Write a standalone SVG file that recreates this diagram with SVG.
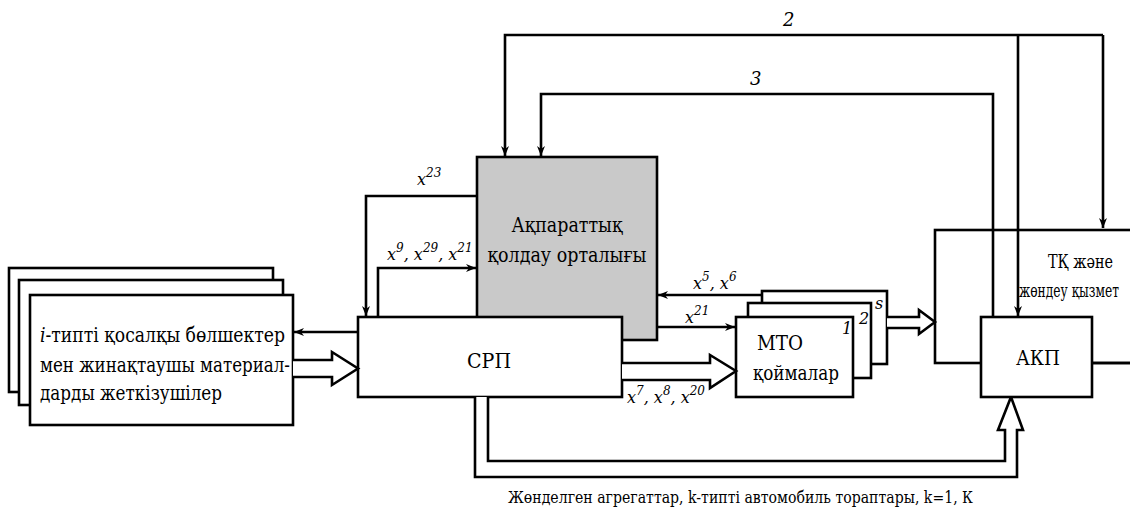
<svg xmlns="http://www.w3.org/2000/svg" width="1130" height="516" viewBox="0 0 1130 516">
<style>
.box{fill:#fff;stroke:#000;stroke-width:2.6}
.gray{fill:#c9c9c9;stroke:#000;stroke-width:2.6}
.ln{fill:none;stroke:#000;stroke-width:2.6}
.hol{fill:#fff;stroke:#000;stroke-width:2.6;stroke-linejoin:miter}
</style>
<defs>
<marker id="arr" viewBox="0 0 10 10" refX="10" refY="5" markerWidth="10" markerHeight="10" orient="auto" markerUnits="userSpaceOnUse">
<path d="M0,1 L10,5 L0,9 L3,5 z" fill="#000"/>
</marker>
</defs>

<g id="suppliers" font-family="DejaVu Serif, serif" font-size="20" fill="#000">
<rect class="box" x="9" y="268" width="264" height="124"/>
<rect class="box" x="19" y="280" width="264" height="125"/>
<rect class="box" x="30" y="295" width="263" height="130"/>
<text x="40" y="342" textLength="245" lengthAdjust="spacingAndGlyphs"><tspan font-style="italic">і</tspan>-типті қосалқы бөлшектер</text>
<text x="40" y="372" textLength="250" lengthAdjust="spacingAndGlyphs">мен жинақтаушы материал-</text>
<text x="40" y="400" textLength="182" lengthAdjust="spacingAndGlyphs">дарды жеткізушілер</text>
</g>

<g id="info-center" font-family="DejaVu Serif, serif" font-size="21" fill="#000">
<rect class="gray" x="477" y="157" width="180" height="183"/>
<text x="567" y="232" text-anchor="middle" textLength="111" lengthAdjust="spacingAndGlyphs">Ақпараттық</text>
<text x="567" y="262" text-anchor="middle" textLength="159" lengthAdjust="spacingAndGlyphs">қолдау орталығы</text>
</g>

<g id="srp" font-family="DejaVu Serif, serif" font-size="21" fill="#000">
<rect class="box" x="358" y="317" width="264" height="80"/>
<text x="489" y="368" text-anchor="middle" textLength="44" lengthAdjust="spacingAndGlyphs">СРП</text>
</g>

<g id="mto" font-family="DejaVu Serif, serif" font-size="20" fill="#000">
<rect class="box" x="762" y="291" width="125" height="73"/>
<rect class="box" x="748" y="303" width="123" height="75"/>
<rect class="box" x="736" y="317" width="117" height="80"/>
<text x="875" y="309" font-size="16" font-style="italic">s</text>
<text x="859" y="324" font-size="16" font-style="italic">2</text>
<text x="842" y="334" font-size="16" font-style="italic">1</text>
<text x="757" y="350" textLength="46" lengthAdjust="spacingAndGlyphs">МТО</text>
<text x="753" y="380" textLength="86" lengthAdjust="spacingAndGlyphs">қоймалар</text>
</g>

<g id="tk-service" font-family="DejaVu Serif, serif" font-size="18" fill="#000">
<rect class="box" x="935" y="230" width="210" height="133"/>
<text x="1048" y="268" textLength="65" lengthAdjust="spacingAndGlyphs">ТҚ және</text>
<text x="1019" y="297" textLength="100" lengthAdjust="spacingAndGlyphs">жөндеу қызмет</text>
</g>

<g id="connectors">
<polyline class="ln" points="1103,35 505,35 505,156" marker-end="url(#arr)"/>
<polyline class="ln" points="1103,35 1103,228" marker-end="url(#arr)"/>
<polyline class="ln" points="1018,35 1018,316" marker-end="url(#arr)"/>
<polyline class="ln" points="993,317 993,94 541,94 541,156" marker-end="url(#arr)"/>
<polyline class="ln" points="477,196 366,196 366,316" marker-end="url(#arr)"/>
<polyline class="ln" points="378,317 378,268 476,268" marker-end="url(#arr)"/>
<line class="ln" x1="358" y1="332" x2="294" y2="332" marker-end="url(#arr)"/>
<line class="ln" x1="762" y1="295" x2="658" y2="295" marker-end="url(#arr)"/>
<line class="ln" x1="657" y1="327" x2="735" y2="327" marker-end="url(#arr)"/>
<path class="hol" d="M293,360 L332,360 L332,352 L358,368.5 L332,385 L332,377 L293,377"/>
<path class="hol" d="M622,363 L710,363 L710,355 L736,371 L710,388 L710,380 L622,380"/>
<path class="hol" d="M887,317 L919,317 L919,310 L935,322 L919,334 L919,328 L887,328"/>
<path class="hol" d="M475,397 L475,477 L1017,477 L1017,430 L1023,430 L1011,397 L998,430 L1005,430 L1005,461 L488,461 L488,397"/>
</g>

<g id="akp" font-family="DejaVu Serif, serif" font-size="21" fill="#000">
<rect class="box" x="981" y="317" width="111" height="80"/>
<text x="1038" y="365" text-anchor="middle" textLength="44" lengthAdjust="spacingAndGlyphs">АКП</text>
<line class="ln" x1="1092" y1="363" x2="1130" y2="363"/>
</g>

<g id="labels" font-family="DejaVu Serif, serif" font-style="italic" font-size="16" fill="#000">
<text x="783" y="26" font-size="18">2</text>
<text x="750" y="85" font-size="18">3</text>
<text x="417" y="185">x<tspan font-size="12" dy="-8">23</tspan></text>
<text x="387" y="260">x<tspan font-size="12" dy="-8">9</tspan><tspan dy="8">, x</tspan><tspan font-size="12" dy="-8">29</tspan><tspan dy="8">, x</tspan><tspan font-size="12" dy="-8">21</tspan></text>
<text x="693" y="289">x<tspan font-size="12" dy="-8">5</tspan><tspan dy="8">, x</tspan><tspan font-size="12" dy="-8">6</tspan></text>
<text x="685" y="323">x<tspan font-size="12" dy="-8">21</tspan></text>
<text x="627" y="403">x<tspan font-size="12" dy="-8">7</tspan><tspan dy="8">, x</tspan><tspan font-size="12" dy="-8">8</tspan><tspan dy="8">, x</tspan><tspan font-size="12" dy="-8">20</tspan></text>
<text x="508" y="503" font-style="normal" font-size="17" textLength="465" lengthAdjust="spacingAndGlyphs">Жөнделген агрегаттар, k-типті автомобиль тораптары, k=1, К</text>
</g>
</svg>
